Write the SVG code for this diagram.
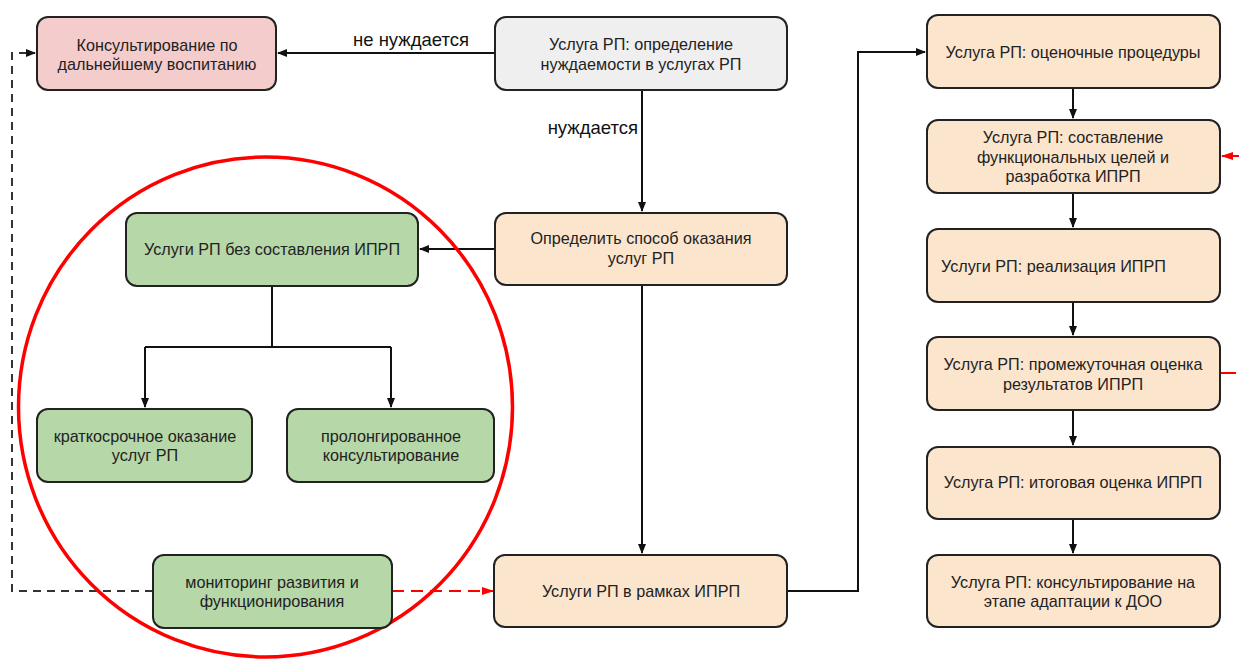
<svg xmlns="http://www.w3.org/2000/svg" width="1239" height="661" viewBox="0 0 1239 661">
<defs>
<marker id="ah" markerWidth="10" markerHeight="10" refX="9" refY="5" orient="auto" markerUnits="userSpaceOnUse">
<path d="M0,1 L10,5 L0,9 Z" fill="#111"/>
</marker>
<marker id="ahr" markerWidth="12" markerHeight="10" refX="11" refY="5" orient="auto" markerUnits="userSpaceOnUse">
<path d="M0,1 L12,5 L0,9 Z" fill="#f00"/>
</marker>
<style>
.n rect{stroke:#222;stroke-width:2}
.pink{fill:#f4cccc}
.grey{fill:#efefef}
.peach{fill:#fce5cd}
.green{fill:#b6d7a8}
text{font-family:"Liberation Sans",Arial,sans-serif;font-size:16.2px;fill:#222}
.c{text-anchor:middle}
.lbl{font-size:18.5px;fill:#111}
.e{fill:none;stroke:#111;stroke-width:2}
</style>
</defs>
<rect width="1239" height="661" fill="#fff"/>
<g id="connectors">
<path class="e" d="M495,53 L278,53" marker-end="url(#ah)"/>
<path class="e" d="M642,90 L642,211" marker-end="url(#ah)"/>
<path class="e" d="M495,249 L420,249" marker-end="url(#ah)"/>
<path class="e" d="M642,285 L642,553" marker-end="url(#ah)"/>
<path class="e" d="M272,286 L272,347 M145,347 L391,347"/>
<path class="e" d="M145,347 L145,407" marker-end="url(#ah)"/>
<path class="e" d="M391,347 L391,407" marker-end="url(#ah)"/>
<path class="e" d="M787,591 L858,591 L858,52 L925,52" marker-end="url(#ah)"/>
<path class="e" d="M1073,88 L1073,118" marker-end="url(#ah)"/>
<path class="e" d="M1073,193 L1073,227" marker-end="url(#ah)"/>
<path class="e" d="M1073,302 L1073,335" marker-end="url(#ah)"/>
<path class="e" d="M1073,410 L1073,445" marker-end="url(#ah)"/>
<path class="e" d="M1073,519 L1073,553" marker-end="url(#ah)"/>
<path d="M153,591 L12,591 L12,53 L35,53" fill="none" stroke="#333" stroke-width="2" stroke-dasharray="8,6" marker-end="url(#ah)"/>
<path d="M392,591 L493,591" fill="none" stroke="#f00" stroke-width="2" stroke-dasharray="12,7" marker-end="url(#ahr)"/>
<path d="M1239,156 L1222,156" fill="none" stroke="#f00" stroke-width="2" marker-end="url(#ahr)"/>
<path d="M1221,373 L1236,373" fill="none" stroke="#f00" stroke-width="2"/>
<text class="lbl" x="411" y="46" text-anchor="middle">не нуждается</text>
<text class="lbl" x="638" y="134" text-anchor="end">нуждается</text>
</g>
<ellipse cx="265.5" cy="407" rx="247" ry="250" fill="none" stroke="#f00" stroke-width="3.5"/>
<g id="n-consult" class="n"><rect class="pink" x="37" y="17" width="239" height="73" rx="11"/><text class="c" x="157" y="51">Консультирование по</text><text class="c" x="157" y="70">дальнейшему воспитанию</text></g>
<g id="n-need" class="n"><rect class="grey" x="495" y="17" width="292" height="73" rx="11"/><text class="c" x="641" y="50">Услуга РП: определение</text><text class="c" x="641" y="70">нуждаемости в услугах РП</text></g>
<g id="n-method" class="n"><rect class="peach" x="495" y="213" width="292" height="72" rx="11"/><text class="c" x="641" y="244">Определить способ оказания</text><text class="c" x="641" y="264">услуг РП</text></g>
<g id="n-noipr" class="n"><rect class="green" x="126" y="213" width="292" height="73" rx="11"/><text class="c" x="272" y="255">Услуги РП без составления ИПРП</text></g>
<g id="n-short" class="n"><rect class="green" x="37" y="409" width="215" height="73" rx="11"/><text class="c" x="145" y="442">краткосрочное оказание</text><text class="c" x="145" y="461">услуг РП</text></g>
<g id="n-prolong" class="n"><rect class="green" x="287" y="409" width="207" height="73" rx="11"/><text class="c" x="391" y="442">пролонгированное</text><text class="c" x="391" y="461">консультирование</text></g>
<g id="n-monitor" class="n"><rect class="green" x="153" y="555" width="239" height="73" rx="11"/><text class="c" x="272" y="588">мониторинг развития и</text><text class="c" x="272" y="607">функционирования</text></g>
<g id="n-ipr" class="n"><rect class="peach" x="494" y="555" width="293" height="72" rx="11"/><text class="c" x="641" y="597">Услуги РП в рамках ИПРП</text></g>
<g id="n-assess" class="n"><rect class="peach" x="927" y="15" width="293" height="73" rx="11"/><text class="c" x="1073" y="58">Услуга РП: оценочные процедуры</text></g>
<g id="n-goals" class="n"><rect class="peach" x="927" y="120" width="293" height="73" rx="11"/><text class="c" x="1073" y="143">Услуга РП: составление</text><text class="c" x="1073" y="163">функциональных целей и</text><text class="c" x="1073" y="182">разработка ИПРП</text></g>
<g id="n-impl" class="n"><rect class="peach" x="927" y="229" width="293" height="73" rx="11"/><text x="941" y="272">Услуги РП: реализация ИПРП</text></g>
<g id="n-mid" class="n"><rect class="peach" x="927" y="337" width="293" height="73" rx="11"/><text class="c" x="1073" y="370">Услуга РП: промежуточная оценка</text><text class="c" x="1073" y="390">результатов ИПРП</text></g>
<g id="n-final" class="n"><rect class="peach" x="927" y="447" width="293" height="72" rx="11"/><text class="c" x="1073" y="488">Услуга РП: итоговая оценка ИПРП</text></g>
<g id="n-adapt" class="n"><rect class="peach" x="927" y="555" width="293" height="72" rx="11"/><text class="c" x="1073" y="588">Услуга РП: консультирование на</text><text class="c" x="1073" y="607">этапе адаптации к ДОО</text></g>
</svg>
